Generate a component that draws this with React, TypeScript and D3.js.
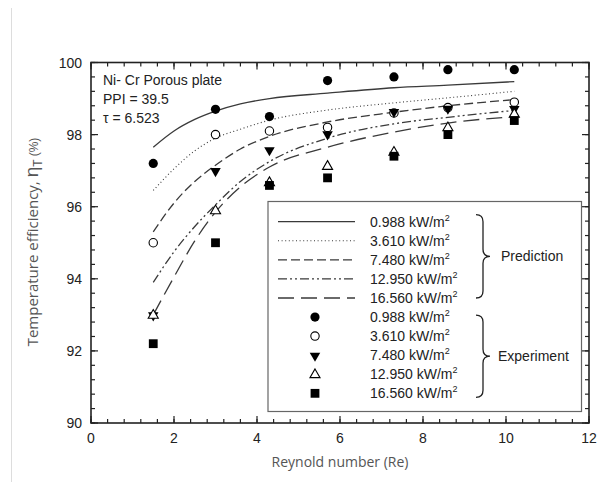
import * as d3 from "d3";

// Reynolds numbers of the measurements
const reExp = [1.5, 3, 4.3, 5.7, 7.3, 8.6, 10.2];

// experiment values (%), one array per heat flux
const exp0988 = [97.2, 98.7, 98.5, 99.5, 99.6, 99.8, 99.8];
const exp3610 = [95.0, 98.0, 98.1, 98.2, 98.6, 98.75, 98.9];
const exp7480 = [93.0, 97.0, 97.58, 98.02, 98.64, 98.73, 98.72];
const exp12950 = [93.0, 95.9, 96.68, 97.13, 97.52, 98.2, 98.58];
const exp16560 = [92.2, 95.0, 96.59, 96.8, 97.4, 98.0, 98.39];

const rePred = [1.5, 2, 2.5, 3, 3.6, 4.3, 5.7, 7.3, 8.6, 10.2];
const pred0988 = [97.65, 98.1, 98.42, 98.65, 98.85, 99.0, 99.15, 99.3, 99.37, 99.47];
const pred3610 = [96.45, 97.05, 97.55, 97.9, 98.15, 98.4, 98.68, 98.88, 99.02, 99.2];
const pred7480 = [95.3, 96.1, 96.7, 97.15, 97.6, 97.95, 98.35, 98.62, 98.8, 98.97];
const pred12950 = [93.9, 94.75, 95.45, 96.05, 96.7, 97.25, 97.9, 98.3, 98.48, 98.67];
const pred16560 = [93.0, 94.05, 95.05, 95.85, 96.55, 97.1, 97.65, 98.07, 98.32, 98.5];

const fluxLabels = ["0.988", "3.610", "7.480", "12.950", "16.560"];
const xTicks = [0, 2, 4, 6, 8, 10, 12];
const yTicks = [90, 92, 94, 96, 98, 100];

const W = 600;
const H = 482;
const m = { left: 91, right: 589, top: 62.5, bottom: 423 };
const ink = "#222";
const lineInk = "#3a3a3a";
const dashes = ["none", "1,2.6", "9,4", "9,3,2,3,2,3", "16,7"];

const x = d3.scaleLinear().domain([0, 12]).range([m.left, m.right]);
const y = d3.scaleLinear().domain([90, 100]).range([m.bottom, m.top]);

const line = d3
  .line<[number, number]>()
  .x((d) => x(d[0]))
  .y((d) => y(d[1]))
  .curve(d3.curveMonotoneX);

const preds = [pred0988, pred3610, pred7480, pred12950, pred16560];
const exps = [exp0988, exp3610, exp7480, exp12950, exp16560];

// marker: filled circle, open circle, filled down-tri, open up-tri, filled square
function Marker({ k, cx, cy }: { k: number; cx: number; cy: number }) {
  if (k === 0) return <circle cx={cx} cy={cy} r={4.6} fill="#000" />;
  if (k === 1)
    return <circle cx={cx} cy={cy} r={4.2} fill="#fff" stroke="#000" strokeWidth={1.1} />;
  if (k === 2) {
    const p = d3.symbol().type(d3.symbolTriangle).size(48)() as string;
    return <path d={p} transform={`translate(${cx},${cy + 0.5}) rotate(180)`} fill="#000" />;
  }
  if (k === 3) {
    const p = d3.symbol().type(d3.symbolTriangle).size(44)() as string;
    return (
      <path d={p} transform={`translate(${cx},${cy + 0.5})`} fill="#fff" stroke="#000" strokeWidth={1.1} />
    );
  }
  return <rect x={cx - 4.4} y={cy - 4.4} width={8.8} height={8.8} fill="#000" />;
}

function brace(x0: number, y0: number, y1: number) {
  const x1 = x0 + 7;
  const x2 = x0 + 14;
  const ym = (y0 + y1) / 2;
  const r = 7;
  return `M${x0},${y0} Q${x1},${y0} ${x1},${y0 + r} L${x1},${ym - r} Q${x1},${ym} ${x2},${ym}
    Q${x1},${ym} ${x1},${ym + r} L${x1},${y1 - r} Q${x1},${y1} ${x0},${y1}`;
}

export default function App() {
  const minorX = d3.range(0, 12.001, 0.4);
  const minorY = d3.range(90, 100.001, 0.4);
  const rowY = (i: number) => 221.7 + i * 19.07;
  const sans = "'Liberation Sans', Arial, sans-serif";

  return (
    <svg
      width={W}
      height={H}
      style={{ position: "absolute", left: 0, top: 0, background: "#fff" }}
      fontFamily={sans}
    >
      <line x1={11.5} x2={11.5} y1={8} y2={H} stroke="#ddd" strokeWidth={1} />

      {/* prediction curves */}
      {preds.map((p, i) => (
        <path
          key={"p" + i}
          d={line(rePred.map((r, j) => [r, p[j]]) as [number, number][]) || ""}
          fill="none"
          stroke={lineInk}
          strokeWidth={i === 1 ? 1.1 : 1.3}
          strokeDasharray={dashes[i]}
        />
      ))}

      {/* experiment markers */}
      {exps.map((e, k) =>
        e.map((v, j) => <Marker key={`m${k}-${j}`} k={k} cx={x(reExp[j])} cy={y(v)} />)
      )}

      {/* minor ticks */}
      {minorX.map((t) => (
        <g key={"mx" + t}>
          <line x1={x(t)} x2={x(t)} y1={m.bottom} y2={m.bottom - 4} stroke={ink} strokeWidth={1.2} />
          <line x1={x(t)} x2={x(t)} y1={m.top} y2={m.top + 4} stroke={ink} strokeWidth={1.2} />
        </g>
      ))}
      {minorY.map((t) => (
        <g key={"my" + t}>
          <line x1={m.left} x2={m.left + 4} y1={y(t)} y2={y(t)} stroke={ink} strokeWidth={1.2} />
          <line x1={m.right} x2={m.right - 4} y1={y(t)} y2={y(t)} stroke={ink} strokeWidth={1.2} />
        </g>
      ))}
      {xTicks.map((t) => (
        <g key={"tx" + t}>
          <line x1={x(t)} x2={x(t)} y1={m.bottom} y2={m.bottom - 7} stroke={ink} strokeWidth={1.2} />
          <line x1={x(t)} x2={x(t)} y1={m.top} y2={m.top + 7} stroke={ink} strokeWidth={1.2} />
          <text x={x(t)} y={m.bottom + 20} textAnchor="middle" fontSize={14} fill="#222">
            {t}
          </text>
        </g>
      ))}
      {yTicks.map((t) => (
        <g key={"ty" + t}>
          <line x1={m.left} x2={m.left + 7} y1={y(t)} y2={y(t)} stroke={ink} strokeWidth={1.2} />
          <line x1={m.right} x2={m.right - 7} y1={y(t)} y2={y(t)} stroke={ink} strokeWidth={1.2} />
          <text x={82} y={y(t) + 5} textAnchor="end" fontSize={14} fill="#222">
            {t}
          </text>
        </g>
      ))}
      <rect
        x={m.left}
        y={m.top}
        width={m.right - m.left}
        height={m.bottom - m.top}
        fill="none"
        stroke={ink}
        strokeWidth={1.6}
      />

      {/* annotation */}
      <g fontSize={14} fill="#222">
        <text x={103} y={84.5}>Ni- Cr Porous plate</text>
        <text x={103} y={103.5}>PPI = 39.5</text>
        <text x={103} y={123}>τ = 6.523</text>
      </g>

      {/* legend */}
      <rect x={268} y={201.5} width={313.5} height={210} fill="#fff" stroke="#666" strokeWidth={1.2} />
      {fluxLabels.map((f, i) => (
        <g key={"lp" + i}>
          <line
            x1={278}
            x2={355}
            y1={rowY(i)}
            y2={rowY(i)}
            stroke={lineInk}
            strokeWidth={i === 1 ? 1.1 : 1.3}
            strokeDasharray={dashes[i]}
          />
          <text x={370} y={rowY(i) + 5} fontSize={14} fill="#222">
            {f} kW/m
            <tspan fontSize={9} dy={-6}>2</tspan>
          </text>
        </g>
      ))}
      {fluxLabels.map((f, i) => (
        <g key={"le" + i}>
          <Marker k={i} cx={315} cy={rowY(i + 5)} />
          <text x={370} y={rowY(i + 5) + 5} fontSize={14} fill="#222">
            {f} kW/m
            <tspan fontSize={9} dy={-6}>2</tspan>
          </text>
        </g>
      ))}
      <path d={brace(476, rowY(0) - 7, rowY(4) + 0)} fill="none" stroke="#222" strokeWidth={1.3} />
      <path d={brace(476, rowY(5) - 2, rowY(9) + 4)} fill="none" stroke="#222" strokeWidth={1.3} />
      <text x={501} y={(rowY(0) - 7 + rowY(4)) / 2 + 5} fontSize={14} fill="#222">
        Prediction
      </text>
      <text x={498} y={(rowY(5) - 2 + rowY(9) + 4) / 2 + 5} fontSize={14} fill="#222">
        Experiment
      </text>

      {/* axis titles */}
      <text
        x={(m.left + m.right) / 2}
        y={467}
        textAnchor="middle"
        fontFamily="'Open Sans', sans-serif"
        fontSize={14}
        fill="#555"
      >
        Reynold number (Re)
      </text>
      <text
        transform="translate(38,242) rotate(-90)"
        textAnchor="middle"
        fontFamily="'Open Sans', sans-serif"
        fontSize={15}
        fill="#555"
      >
        Temperature efficiency,{" "}
        <tspan fontFamily={sans} fontSize={19}>η</tspan>
        <tspan fontFamily={sans} fontSize={12} dy={4}>T</tspan>
        <tspan fontFamily={sans} fontSize={12} dy={-4}> (%)</tspan>
      </text>
    </svg>
  );
}
